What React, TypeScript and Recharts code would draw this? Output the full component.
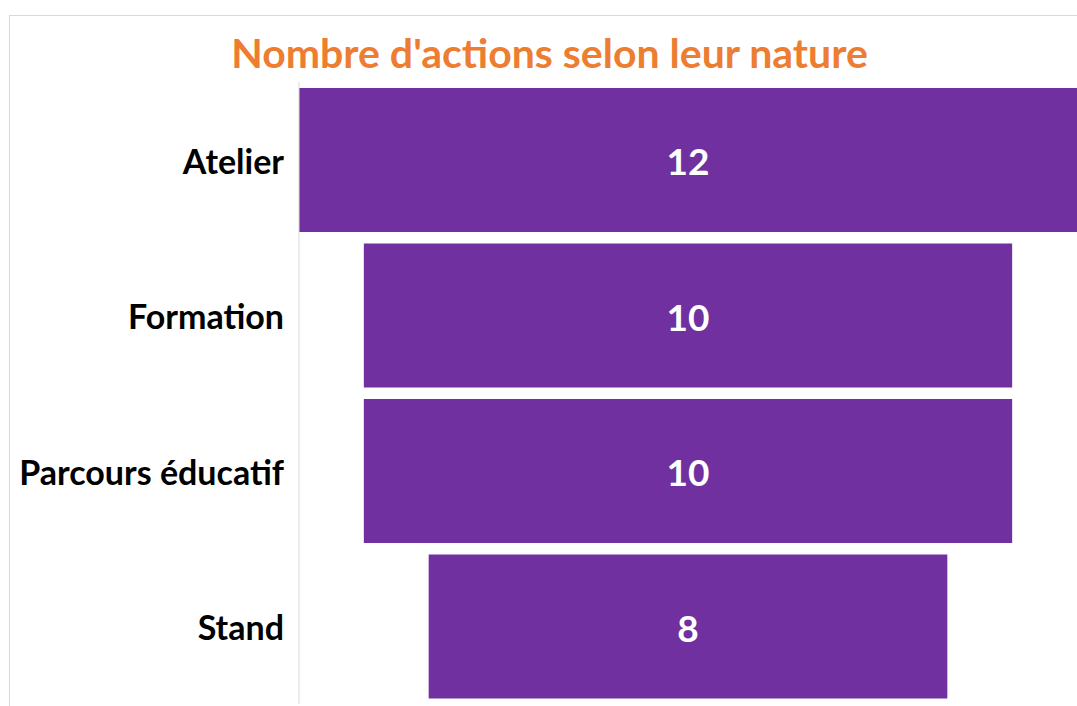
import { Bar, BarChart, LabelList, XAxis, YAxis } from "recharts"

const categories = ["Atelier", "Formation", "Parcours éducatif", "Stand"]
const counts = [12, 10, 10, 8]
const maxCount = 12

// invisible offset bar + the real bar, so each bar sits centred (funnel look)
const data = categories.map((name, i) => ({
  name,
  offset: (maxCount - counts[i]) / 2,
  total: counts[i],
}))

const font = "Lato, 'Open Sans', sans-serif"

export default function App() {
  return (
    <div style={{ position: "fixed", inset: 0, overflow: "hidden", background: "#fff", fontFamily: font }}>
      <div
        style={{
          position: "absolute",
          left: 9,
          top: 15,
          width: 1120,
          height: 740,
          border: "1px solid #d9d9d9",
        }}
      />
      <div
        style={{
          position: "absolute",
          left: 0,
          top: 28,
          width: 1099,
          textAlign: "center",
          color: "#ED7D31",
          fontWeight: 700,
          fontSize: 41,
          lineHeight: "50px",
        }}
      >
        Nombre d'actions selon leur nature
      </div>
      <div style={{ position: "absolute", left: 0, top: 0 }}>
        <BarChart
          width={1077}
          height={706}
          data={data}
          layout="vertical"
          margin={{ top: 82, right: 0, bottom: 2, left: 0 }}
          barCategoryGap={6}
        >
          <XAxis type="number" domain={[0, maxCount]} hide />
          <YAxis
            type="category"
            dataKey="name"
            width={299}
            axisLine={{ stroke: "#d9d9d9" }}
            tickLine={false}
            tickSize={6}
            tickMargin={9}
            tick={{ fill: "#000", fontSize: 34, fontWeight: 700, fontFamily: font, dy: 2 }}
          />
          <Bar dataKey="offset" stackId="f" fill="transparent" isAnimationActive={false} />
          <Bar dataKey="total" stackId="f" fill="#7030A0" isAnimationActive={false}>
            <LabelList
              dataKey="total"
              position="center"
              fill="#fff"
              fontSize={37}
              fontWeight={700}
              fontFamily={font}
              dy={2}
            />
          </Bar>
        </BarChart>
      </div>
    </div>
  )
}
